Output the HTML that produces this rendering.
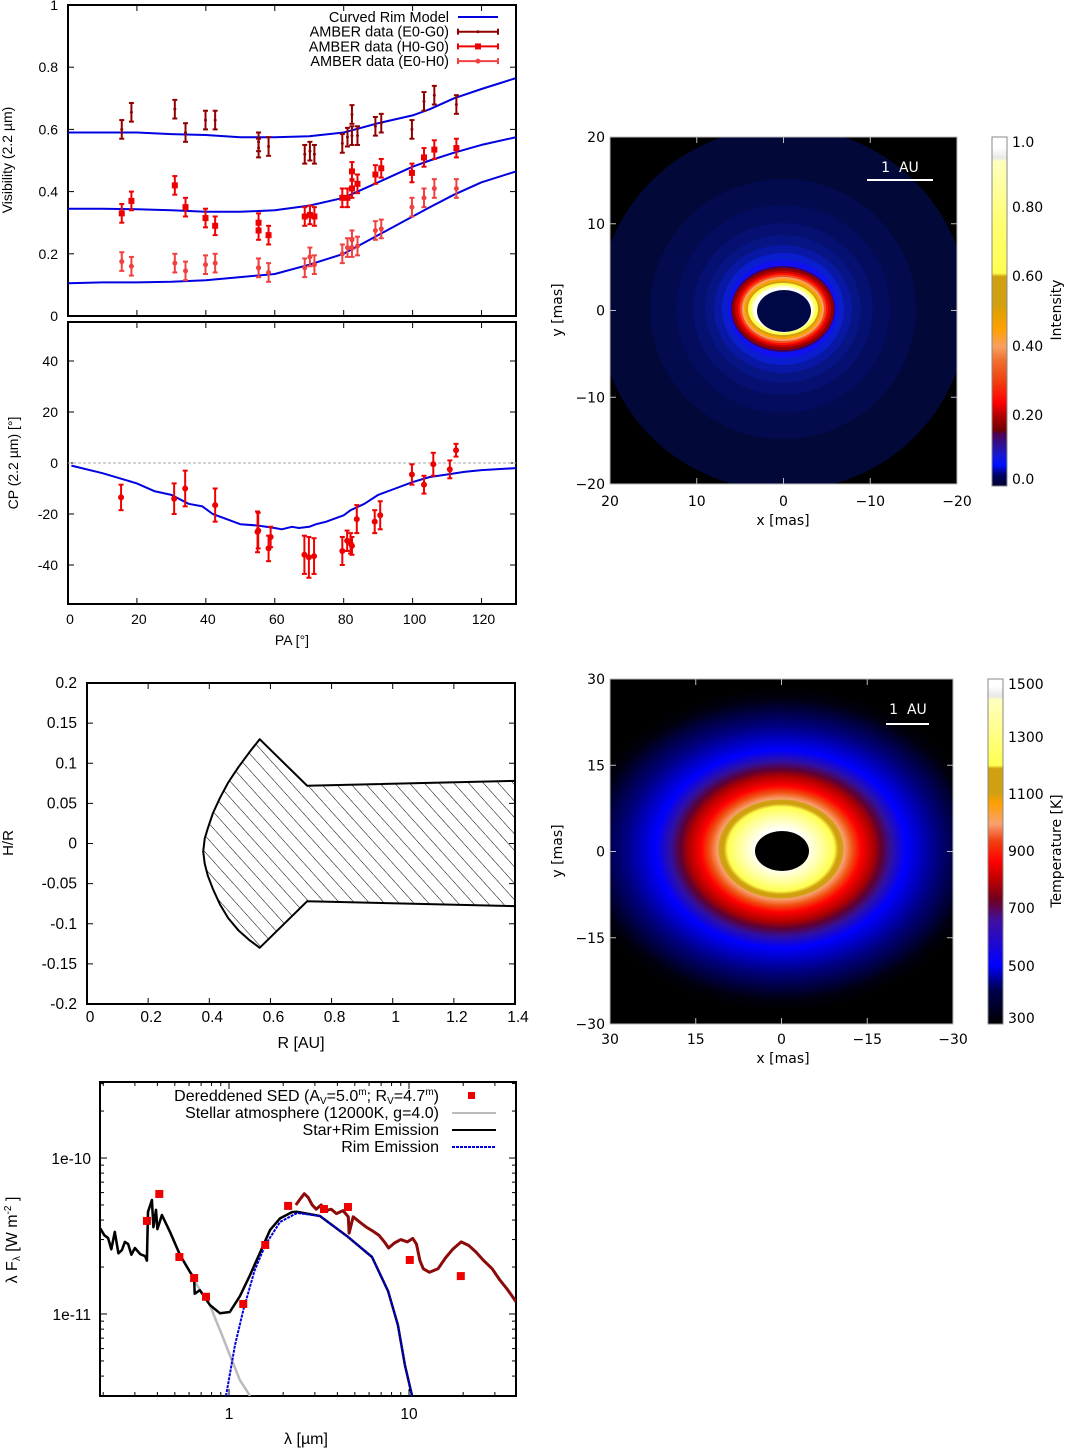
<!DOCTYPE html>
<html><head><meta charset="utf-8"><style>
html,body{margin:0;padding:0;background:#fff;}
svg{display:block;font-family:"Liberation Sans",sans-serif;}
</style></head><body>
<svg id="fig" xmlns="http://www.w3.org/2000/svg" width="1066" height="1448" viewBox="0 0 1066 1448">
<defs>
<linearGradient id="cbI" x1="0" y1="1" x2="0" y2="0">
<stop offset="0" stop-color="#000030"/><stop offset="0.03" stop-color="#000060"/><stop offset="0.06" stop-color="#0010ff"/><stop offset="0.09" stop-color="#1818d0"/><stop offset="0.12" stop-color="#301090"/><stop offset="0.15" stop-color="#500050"/><stop offset="0.16" stop-color="#700000"/><stop offset="0.2" stop-color="#b00000"/><stop offset="0.24" stop-color="#ff0000"/><stop offset="0.3" stop-color="#f04010"/><stop offset="0.36" stop-color="#f07030"/><stop offset="0.4" stop-color="#f8a060"/><stop offset="0.45" stop-color="#ffa000"/><stop offset="0.5" stop-color="#e0a000"/><stop offset="0.52" stop-color="#d0a010"/><stop offset="0.6" stop-color="#d0a010"/><stop offset="0.61" stop-color="#ffff50"/><stop offset="0.75" stop-color="#ffff70"/><stop offset="0.93" stop-color="#ffffc0"/><stop offset="0.94" stop-color="#e8e8e8"/><stop offset="0.97" stop-color="#ffffff"/>
</linearGradient>
<linearGradient id="cbT" x1="0" y1="1" x2="0" y2="0">
<stop offset="0" stop-color="#000000"/><stop offset="0.1" stop-color="#000050"/><stop offset="0.17" stop-color="#0000ff"/><stop offset="0.3" stop-color="#4010a0"/><stop offset="0.36" stop-color="#700020"/><stop offset="0.42" stop-color="#c00000"/><stop offset="0.47" stop-color="#ff0000"/><stop offset="0.53" stop-color="#f04010"/><stop offset="0.58" stop-color="#f8a070"/><stop offset="0.64" stop-color="#ffa000"/><stop offset="0.67" stop-color="#d0a010"/><stop offset="0.74" stop-color="#d0a010"/><stop offset="0.75" stop-color="#ffff50"/><stop offset="0.94" stop-color="#ffffc0"/><stop offset="0.95" stop-color="#e8e8e8"/><stop offset="0.98" stop-color="#ffffff"/>
</linearGradient>
<radialGradient id="rgT" cx="0" cy="0" r="1" gradientUnits="userSpaceOnUse" gradientTransform="translate(781 849) scale(205 162)">
<stop offset="0.12" stop-color="#ffffff"/><stop offset="0.2" stop-color="#ffffa0"/><stop offset="0.26" stop-color="#ffff50"/><stop offset="0.28" stop-color="#d0a010"/><stop offset="0.3" stop-color="#d0a010"/><stop offset="0.31" stop-color="#f8a070"/><stop offset="0.35" stop-color="#f05010"/><stop offset="0.39" stop-color="#ff0000"/><stop offset="0.45" stop-color="#b00000"/><stop offset="0.49" stop-color="#600030"/><stop offset="0.54" stop-color="#3010a0"/><stop offset="0.61" stop-color="#0000ff"/><stop offset="0.76" stop-color="#000080"/><stop offset="0.93" stop-color="#000010"/><stop offset="1" stop-color="#000000"/>
</radialGradient>
<pattern id="hatch" patternUnits="userSpaceOnUse" width="11" height="11" patternTransform="rotate(-42)">
<line x1="0" y1="0" x2="0" y2="11" stroke="#000" stroke-width="1"/>
</pattern>
<clipPath id="clipI"><rect x="610" y="137" width="347" height="347"/></clipPath>
<clipPath id="clipT"><rect x="610" y="679" width="343" height="345"/></clipPath>
<clipPath id="clipS"><rect x="100" y="1082" width="416" height="314"/></clipPath>
<clipPath id="clipV"><rect x="68" y="5" width="448" height="311"/></clipPath>
</defs>
</svg>
<script>
// ---------- data ----------
var visPA = [15.6,18.4,31,34.1,39.9,42.7,55.3,55.3,58.2,68.7,70.2,71.5,79.6,81.1,82.4,82.4,84,89.2,90.9,99.8,103.3,106.3,112.7];
var visE0G0 = [0.60,0.655,0.665,0.59,0.63,0.63,0.56,0.54,0.545,0.52,0.53,0.52,0.555,0.575,0.58,0.648,0.58,0.61,0.62,0.60,0.69,0.71,0.68];
var visH0G0 = [0.33,0.37,0.42,0.35,0.315,0.29,0.30,0.275,0.26,0.32,0.325,0.32,0.38,0.38,0.41,0.465,0.425,0.455,0.475,0.46,0.51,0.535,0.54];
var visE0H0 = [0.175,0.16,0.17,0.145,0.165,0.17,0.155,0.155,0.14,0.155,0.19,0.165,0.20,0.22,0.22,0.245,0.225,0.275,0.28,0.35,0.38,0.41,0.41];
var visErr = 0.03;
var modelPA = [0,10,20,30,40,50,60,70,80,90,100,105,112,120,130];
var modelTop = [0.59,0.59,0.59,0.585,0.582,0.575,0.575,0.578,0.59,0.62,0.645,0.665,0.70,0.73,0.765];
var modelMid = [0.345,0.345,0.343,0.34,0.335,0.335,0.34,0.355,0.38,0.43,0.48,0.50,0.525,0.55,0.575];
var modelLow = [0.105,0.108,0.108,0.11,0.115,0.125,0.135,0.165,0.20,0.26,0.32,0.35,0.39,0.43,0.465];
var cpPA = [15.4,30.8,34,42.7,55,55.2,58.2,58.8,68.6,69.9,71.4,79.6,81,82,82.4,83.8,89,90.6,99.8,103.3,106,110.8,112.6];
var cpVal = [-13.5,-14,-10,-16.5,-27,-26.5,-33.5,-29,-36,-37,-36.5,-34.5,-30.5,-31.5,-32.5,-22,-23,-20.5,-4.5,-8.5,-0.5,-2.5,5];
var cpErr = [5,6,7,6.5,8,7,5,4,7.5,8,7,5.5,4,4,3.5,5.5,4.5,5.5,4,3.5,4.5,3.5,2.5];
var cpModelPA = [1,10,20,25,30,35,39,42,46,50,55,60,62,65,67,70,72,75,80,82,86,90,95,100,105,110,115,120,130];
var cpModel = [-1,-4,-8,-11,-12.5,-16,-17,-20,-22,-24,-24.5,-25.5,-26,-25,-25.5,-25,-24,-23,-20.5,-18.5,-16,-12.5,-10,-7.5,-5.5,-4.5,-3.5,-2.8,-2];
var rimR = [0.565,0.53,0.495,0.462,0.435,0.412,0.395,0.385,0.38,0.385,0.395,0.412,0.435,0.462,0.495,0.53,0.565,0.72,1.4,1.4,0.72];
var rimH = [0.13,0.113,0.095,0.076,0.057,0.038,0.019,0.006,-0.01,-0.025,-0.04,-0.057,-0.076,-0.093,-0.108,-0.12,-0.13,-0.072,-0.078,0.078,0.072];
var sedLam = [0.35,0.41,0.53,0.64,0.745,1.2,1.59,2.13,3.37,4.58,10.1,19.4];
var sedFlux = [3.95e-11,5.88e-11,2.32e-11,1.70e-11,1.29e-11,1.16e-11,2.77e-11,4.93e-11,4.71e-11,4.85e-11,2.22e-11,1.75e-11];
var totLam = [0.192,0.203,0.213,0.222,0.232,0.243,0.254,0.264,0.275,0.287,0.300,0.321,0.342,0.350,0.355,0.373,0.380,0.393,0.400,0.424,0.470,0.534,0.607,0.640,0.645,0.689,0.784,0.891,1.01,1.15,1.31,1.49,1.69,1.92,2.24,2.39,3.20,4.58,6.23,7.65,8.68,9.49,10.4];
var totFlux = [3.56e-11,3.2e-11,3.07e-11,2.6e-11,3.36e-11,2.45e-11,2.57e-11,2.9e-11,2.81e-11,2.4e-11,2.65e-11,2.42e-11,2.35e-11,2.2e-11,4.51e-11,5.38e-11,3.6e-11,4.65e-11,3.5e-11,4.31e-11,3.36e-11,2.39e-11,1.86e-11,1.70e-11,1.35e-11,1.42e-11,1.14e-11,1.01e-11,1.03e-11,1.30e-11,1.78e-11,2.49e-11,3.45e-11,4.10e-11,4.50e-11,4.52e-11,4.25e-11,3.12e-11,2.32e-11,1.40e-11,8.5e-12,4.71e-12,2.98e-12];
var starLam = [0.192,0.203,0.213,0.222,0.232,0.243,0.254,0.264,0.275,0.287,0.300,0.321,0.342,0.350,0.355,0.373,0.380,0.393,0.400,0.424,0.470,0.534,0.607,0.689,0.784,0.836,0.914,1.01,1.15,1.31];
var starFlux = [3.56e-11,3.2e-11,3.07e-11,2.6e-11,3.36e-11,2.45e-11,2.57e-11,2.9e-11,2.81e-11,2.4e-11,2.65e-11,2.42e-11,2.35e-11,2.2e-11,4.51e-11,5.38e-11,3.6e-11,4.65e-11,3.5e-11,4.31e-11,3.36e-11,2.39e-11,1.86e-11,1.42e-11,1.14e-11,9.42e-12,7.33e-12,5.46e-12,3.77e-12,2.98e-12];
var rimLam = [0.962,1.08,1.20,1.39,1.59,1.92,2.39,3.20,4.58,6.23,7.65,8.68,9.49,10.4];
var rimFlux = [2.98e-12,6.32e-12,1.06e-11,1.91e-11,2.77e-11,3.89e-11,4.44e-11,4.25e-11,3.12e-11,2.32e-11,1.40e-11,8.5e-12,4.71e-12,2.98e-12];
var specLam = [2.35,2.5,2.62,2.75,2.9,3.05,3.25,3.45,3.7,3.95,4.3,4.6,4.65,4.9,5.3,5.8,6.3,6.8,7.3,7.7,8.3,9.0,9.8,10.5,11.0,11.5,12.0,13.0,14.5,16.0,17.5,19.5,21.5,23.5,26.0,29.0,32.0,35.0,39.3];
var specFlux = [5.0e-11,5.5e-11,5.9e-11,5.6e-11,5.0e-11,4.7e-11,5.0e-11,4.6e-11,4.7e-11,4.4e-11,4.6e-11,4.2e-11,3.3e-11,4.2e-11,3.9e-11,3.6e-11,3.4e-11,3.2e-11,2.9e-11,2.65e-11,2.85e-11,3.0e-11,2.9e-11,3.05e-11,2.8e-11,2.2e-11,1.95e-11,1.85e-11,1.95e-11,2.3e-11,2.6e-11,2.9e-11,2.75e-11,2.5e-11,2.2e-11,1.95e-11,1.65e-11,1.45e-11,1.2e-11];
var visYTicks = [0,0.2,0.4,0.6,0.8,1];
var cpYTicks = [-40,-20,0,20,40];
var paTicks = [0,20,40,60,80,100,120];
var hrYTicks = [0.2,0.15,0.1,0.05,0,-0.05,-0.1,-0.15,-0.2];
var hrXTicks = [0,0.2,0.4,0.6,0.8,1,1.2,1.4];

// ---------- helpers ----------
var NS = 'http://www.w3.org/2000/svg';
var svg = document.getElementById('fig');
function mk(tag, attrs, name, parent) {
  var el = document.createElementNS(NS, tag);
  for (var k in attrs) el.setAttribute(k, attrs[k]);
  
  
  (parent || svg).appendChild(el);
  return el;
}
function txt(x, y, s, name, opt) {
  opt = opt || {};
  var a = {x: x, y: y, 'font-size': opt.size || 14, 'text-anchor': opt.anchor || 'middle', fill: opt.fill || '#000'};
  if (opt.rot) a.transform = 'rotate(-90 ' + x + ' ' + y + ')';
  if (opt.family) a['font-family'] = opt.family;
  var t = mk('text', a, name, opt.parent);
  t.innerHTML = s;
  return t;
}
function poly(pts, name, stroke, w, opt) {
  opt = opt || {};
  var a = {points: pts.map(function(p){return p[0].toFixed(1)+','+p[1].toFixed(1);}).join(' '), fill: 'none', stroke: stroke, 'stroke-width': w, 'stroke-linejoin': 'round'};
  if (opt.dash) a['stroke-dasharray'] = opt.dash;
  if (opt.clip) a['clip-path'] = opt.clip;
  return mk('polyline', a, name, opt.parent);
}
function ln(x1,y1,x2,y2,name,stroke,w){ return mk('line',{x1:x1,y1:y1,x2:x2,y2:y2,stroke:stroke||'#000','stroke-width':w||1},name); }

// ---------- Panel 1: visibility ----------
var PX = function(pa){ return 68 + pa*448/130; };
var VY = function(v){ return 316 - v*311; };
var CY = function(c){ return 463 - c*2.55; };
mk('rect',{x:68,y:5,width:448,height:311,fill:'none',stroke:'#000','stroke-width':2},'visibility-frame');
visYTicks.forEach(function(v){
  ln(68,VY(v),74,VY(v),'vis-y-tick'); ln(510,VY(v),516,VY(v),'vis-y-tick');
  txt(58,VY(v)+5,String(v),'vis-y-tick-label',{anchor:'end'});
});
paTicks.forEach(function(p){
  ln(PX(p),316,PX(p),310,'vis-x-tick'); ln(PX(p),5,PX(p),11,'vis-x-tick');
  ln(PX(p),604,PX(p),598,'cp-x-tick'); ln(PX(p),322,PX(p),328,'cp-x-tick');
  txt(PX(p)+2,624,String(p),'pa-tick-label');
});
txt(12,160,'Visibility (2.2 µm)','vis-y-axis-title',{rot:1,size:14});
[modelTop,modelMid,modelLow].forEach(function(arr,i){
  poly(modelPA.map(function(p,j){return [PX(p),VY(arr[j])];}),'curved-rim-model-'+i,'#0000e0',2,{clip:'url(#clipV)'});
});
function visSeries(vals, color, marker, name){
  visPA.forEach(function(p,i){
    var x=PX(p), y=VY(vals[i]), y1=VY(vals[i]-visErr), y2=VY(vals[i]+visErr);
    ln(x,y1,x,y2,name+'-errorbar',color,2);
    ln(x-2.5,y1,x+2.5,y1,name+'-errorcap',color,2);
    ln(x-2.5,y2,x+2.5,y2,name+'-errorcap',color,2);
    if(marker==='sq') mk('rect',{x:x-3,y:y-3,width:6,height:6,fill:color},name+'-point');
    else if(marker==='c') mk('circle',{cx:x,cy:y,r:2.5,fill:color},name+'-point');
    else mk('circle',{cx:x,cy:y,r:1.5,fill:color},name+'-point');
  });
}
visSeries(visE0G0,'#900000','p','amber-e0-g0');
visSeries(visH0G0,'#ee0000','sq','amber-h0-g0');
visSeries(visE0H0,'#f04040','c','amber-e0-h0');
var leg = [['Curved Rim Model','#0000e0',''],['AMBER data (E0-G0)','#900000','p'],['AMBER data (H0-G0)','#ee0000','sq'],['AMBER data (E0-H0)','#f04040','c']];
leg.forEach(function(l,i){
  var y = 17 + i*14.7;
  txt(449,y+5,l[0],'legend-entry',{anchor:'end',size:14.5});
  ln(458,y,498,y,'legend-line',l[1],2);
  if(l[2]){ ln(458,y-3,458,y+3,'legend-cap',l[1],2); ln(498,y-3,498,y+3,'legend-cap',l[1],2);
    if(l[2]==='sq') mk('rect',{x:475,y:y-3,width:6,height:6,fill:l[1]},'legend-marker');
    else mk('circle',{cx:478,cy:y,r:l[2]==='c'?2.5:1.5,fill:l[1]},'legend-marker'); }
});

// ---------- Panel 2: closure phase ----------
mk('rect',{x:68,y:322,width:448,height:282,fill:'none',stroke:'#000','stroke-width':2},'cp-frame');
cpYTicks.forEach(function(c){
  ln(68,CY(c),74,CY(c),'cp-y-tick'); ln(510,CY(c),516,CY(c),'cp-y-tick');
  txt(58,CY(c)+5,String(c),'cp-y-tick-label',{anchor:'end'});
});
mk('line',{x1:68,y1:CY(0),x2:516,y2:CY(0),stroke:'#aaa','stroke-width':1,'stroke-dasharray':'3,2'},'zero-line');
poly(cpModelPA.map(function(p,j){return [PX(p),CY(cpModel[j])];}),'cp-model-curve','#0000e0',2);
cpPA.forEach(function(p,i){
  var x=PX(p), y=CY(cpVal[i]), y1=CY(cpVal[i]-cpErr[i]), y2=CY(cpVal[i]+cpErr[i]);
  ln(x,y1,x,y2,'cp-errorbar','#ee0000',2);
  ln(x-2.5,y1,x+2.5,y1,'cp-errorcap','#ee0000',2);
  ln(x-2.5,y2,x+2.5,y2,'cp-errorcap','#ee0000',2);
  mk('circle',{cx:x,cy:y,r:3,fill:'#ee0000'},'cp-point');
});
txt(18,463,'CP (2.2 µm) [°]','cp-y-axis-title',{rot:1,size:14});
txt(292,645,'PA [°]','pa-axis-title',{size:14});

// ---------- Panel 3: intensity image ----------
var gI = mk('g',{'clip-path':'url(#clipI)'},'intensity-image');
mk('rect',{x:610,y:137,width:347,height:347,fill:'#000'},'intensity-background',gI);
var ringsI = [[185,182,'#020838'],[133,130,'#030a4e'],[107,104,'#040c5e'],[90,86,'#051070'],[78,74,'#061484'],[69,64,'#0818a4'],[61,56,'#0a1ed0'],[55,49,'#1010f0'],[52,43,'#400060'],[51,41,'#900000'],[48,38,'#d00000'],[45,36,'#ff1000'],[43,34,'#f05020'],[41,32,'#f8a060'],[39,30,'#ffa000'],[37,28,'#d0a010'],[35,26,'#ffff50'],[32,24,'#ffffa8'],[30,22,'#ffffff']];
ringsI.forEach(function(r){ mk('ellipse',{cx:783,cy:309,rx:r[0],ry:r[1],fill:r[2]},'intensity-contour',gI); });
mk('ellipse',{cx:784,cy:311,rx:27,ry:21,fill:'#000845'},'inner-hole',gI);
mk('rect',{x:610,y:137,width:347,height:347,fill:'none',stroke:'#bbb','stroke-width':1},'intensity-frame');
[20,10,0,-10,-20].forEach(function(v,i){
  var y=137+i*86.75, x=610+i*86.75;
  ln(610,y,616,y,'img-tick','#bbb'); ln(951,y,957,y,'img-tick','#bbb');
  ln(x,484,x,478,'img-tick','#bbb'); ln(x,137,x,143,'img-tick','#bbb');
  txt(605,y+5,String(v).replace('-','−'),'intensity-y-tick-label',{anchor:'end',size:14,family:'DejaVu Sans'});
  txt(x,506,String(v).replace('-','−'),'intensity-x-tick-label',{size:14,family:'DejaVu Sans'});
});
txt(783,525,'x [mas]','intensity-x-axis-title',{size:14,family:'DejaVu Sans'});
txt(562,310,'y [mas]','intensity-y-axis-title',{rot:1,size:14,family:'DejaVu Sans'});
ln(867,180,933,180,'scale-bar','#fff',2);
txt(900,172,'1&#160;&#160;AU','scale-bar-label',{size:14,fill:'#fff',family:'DejaVu Sans'});
mk('rect',{x:992,y:137,width:15,height:349,fill:'url(#cbI)',stroke:'#888','stroke-width':1},'intensity-colorbar');
[['1.0',147],['0.80',212],['0.60',281],['0.40',351],['0.20',420],['0.0',484]].forEach(function(l){
  txt(1012,l[1],l[0],'intensity-colorbar-label',{anchor:'start',size:14,family:'DejaVu Sans'});
});
txt(1061,310,'Intensity','intensity-colorbar-title',{rot:1,size:14,family:'DejaVu Sans'});

// ---------- Panel 4: H/R rim ----------
var RX = function(r){ return 87 + r*428/1.4; };
var HY = function(h){ return 843.5 - h*802.5; };
mk('rect',{x:87,y:683,width:428,height:321,fill:'none',stroke:'#000','stroke-width':2},'hr-frame');
hrYTicks.forEach(function(h){
  ln(87,HY(h),93,HY(h),'hr-y-tick'); ln(509,HY(h),515,HY(h),'hr-y-tick');
  txt(77,HY(h)+5,String(h),'hr-y-tick-label',{anchor:'end',size:15.5});
});
hrXTicks.forEach(function(r){
  ln(RX(r),1004,RX(r),998,'hr-x-tick'); ln(RX(r),683,RX(r),689,'hr-x-tick');
  txt(RX(r)+3,1022,String(r),'hr-x-tick-label',{size:15.5});
});
var rimPts = rimR.map(function(r,i){return RX(r).toFixed(1)+','+HY(rimH[i]).toFixed(1);}).join(' ');
mk('polygon',{points:rimPts,fill:'url(#hatch)',stroke:'#000','stroke-width':2,'stroke-linejoin':'round'},'rim-shape');
txt(301,1048,'R [AU]','hr-x-axis-title',{size:16});
txt(13,843,'H/R','hr-y-axis-title',{rot:1,size:15});

// ---------- Panel 5: temperature image ----------
var gT = mk('g',{'clip-path':'url(#clipT)'},'temperature-image');
mk('rect',{x:610,y:679,width:343,height:345,fill:'#000'},'temperature-background',gT);
mk('ellipse',{cx:781,cy:849,rx:205,ry:162,fill:'url(#rgT)'},'temperature-disk',gT);
mk('ellipse',{cx:782,cy:851,rx:27,ry:20,fill:'#000'},'inner-hole',gT);
mk('rect',{x:610,y:679,width:343,height:345,fill:'none',stroke:'#bbb','stroke-width':1},'temperature-frame');
[30,15,0,-15,-30].forEach(function(v,i){
  var y=679+i*86.25, x=610+i*85.75;
  ln(610,y,616,y,'img-tick','#bbb'); ln(947,y,953,y,'img-tick','#bbb');
  ln(x,1024,x,1018,'img-tick','#bbb'); ln(x,679,x,685,'img-tick','#bbb');
  txt(605,y+5,String(v).replace('-','−'),'temperature-y-tick-label',{anchor:'end',size:14,family:'DejaVu Sans'});
  txt(x,1044,String(v).replace('-','−'),'temperature-x-tick-label',{size:14,family:'DejaVu Sans'});
});
txt(783,1063,'x [mas]','temperature-x-axis-title',{size:14,family:'DejaVu Sans'});
txt(562,851,'y [mas]','temperature-y-axis-title',{rot:1,size:14,family:'DejaVu Sans'});
ln(886,724,929,724,'scale-bar','#fff',2);
txt(908,714,'1&#160;&#160;AU','scale-bar-label',{size:14,fill:'#fff',family:'DejaVu Sans'});
mk('rect',{x:988,y:679,width:15,height:345,fill:'url(#cbT)',stroke:'#888','stroke-width':1},'temperature-colorbar');
[['1500',689],['1300',742],['1100',799],['900',856],['700',913],['500',971],['300',1023]].forEach(function(l){
  txt(1008,l[1],l[0],'temperature-colorbar-label',{anchor:'start',size:14,family:'DejaVu Sans'});
});
txt(1061,851,'Temperature [K]','temperature-colorbar-title',{rot:1,size:14,family:'DejaVu Sans'});

// ---------- Panel 6: SED ----------
var LX = function(l){ return 229 + Math.log10(l)*180; };
var FY = function(f){ return 1158 - (Math.log10(f)+10)*156; };
mk('rect',{x:100,y:1082,width:416,height:314,fill:'none',stroke:'#000','stroke-width':2},'sed-frame');
for (var e=-12; e<=-10; e++) for (var m=1; m<10; m++) {
  var f=m*Math.pow(10,e), y=FY(f);
  if (y<1082||y>1396) continue;
  var L = m===1?7:4;
  ln(100,y,100+L,y,'sed-y-tick'); ln(516-L,y,516,y,'sed-y-tick');
}
for (var e2=-1; e2<=1; e2++) for (var m2=1; m2<10; m2++) {
  var lv=m2*Math.pow(10,e2), x=LX(lv);
  if (x<100||x>516) continue;
  var L2 = m2===1?7:4;
  ln(x,1396,x,1396-L2,'sed-x-tick'); ln(x,1082,x,1082+L2,'sed-x-tick');
}
txt(91,1164,'1e-10','sed-y-tick-label',{anchor:'end',size:15.5});
txt(91,1320,'1e-11','sed-y-tick-label',{anchor:'end',size:15.5});
txt(229,1419,'1','sed-x-tick-label',{size:15.5});
txt(409,1419,'10','sed-x-tick-label',{size:15.5});
txt(306,1444,'λ [µm]','sed-x-axis-title',{size:16});
txt(17,1240,'λ F<tspan font-size="10" dy="3">λ</tspan><tspan dy="-3"> [W m</tspan><tspan font-size="10" dy="-6">-2</tspan><tspan dy="6"> ]</tspan>','sed-y-axis-title',{rot:1,size:16});
poly(specLam.map(function(l,i){return [LX(l),FY(specFlux[i])];}),'spitzer-spectrum','#8b0a0a',3,{clip:'url(#clipS)'});
poly(starLam.map(function(l,i){return [LX(l),FY(starFlux[i])];}),'stellar-atmosphere','#bbbbbb',2.5,{clip:'url(#clipS)'});
poly(totLam.map(function(l,i){return [LX(l),FY(totFlux[i])];}),'star-rim-emission','#000',2.5,{clip:'url(#clipS)'});
poly(rimLam.map(function(l,i){return [LX(l),FY(rimFlux[i])];}),'rim-emission','#0000e0',2,{clip:'url(#clipS)',dash:'3,1'});
sedLam.forEach(function(l,i){
  mk('rect',{x:LX(l)-4,y:FY(sedFlux[i])-4,width:8,height:8,fill:'#ee0000'},'sed-point');
});
var sl=[1101,1118,1135,1152];
txt(439,sl[0],'Dereddened SED (A<tspan font-size="10" dy="3">V</tspan><tspan dy="-3">=5.0</tspan><tspan font-size="10" dy="-6">m</tspan><tspan dy="6">; R</tspan><tspan font-size="10" dy="3">V</tspan><tspan dy="-3">=4.7</tspan><tspan font-size="10" dy="-6">m</tspan><tspan dy="6">)</tspan>','legend-entry',{anchor:'end',size:16});
mk('rect',{x:468,y:sl[0]-9,width:7,height:7,fill:'#ee0000'},'legend-marker');
txt(439,sl[1],'Stellar atmosphere (12000K, g=4.0)','legend-entry',{anchor:'end',size:16});
ln(452,sl[1]-5,496,sl[1]-5,'legend-line','#bbb',2);
txt(439,sl[2],'Star+Rim Emission','legend-entry',{anchor:'end',size:16});
ln(452,sl[2]-5,496,sl[2]-5,'legend-line','#000',2);
txt(439,sl[3],'Rim Emission','legend-entry',{anchor:'end',size:16});
mk('line',{x1:452,y1:sl[3]-5,x2:496,y2:sl[3]-5,stroke:'#0000e0','stroke-width':2,'stroke-dasharray':'3,1'},'legend-line');
</script>
</body></html>
